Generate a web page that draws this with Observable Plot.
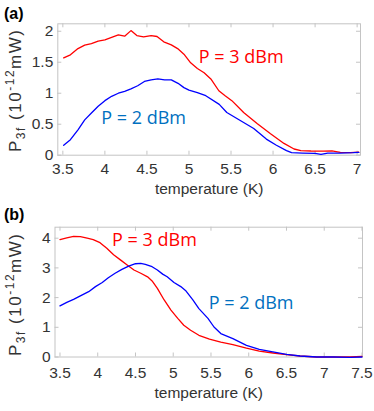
<!DOCTYPE html>
<html><head><meta charset="utf-8">
<script src="https://cdn.jsdelivr.net/npm/d3@7"></script>
<script src="https://cdn.jsdelivr.net/npm/@observablehq/plot@0.6"></script>
<style>
body{margin:0;background:#fff;}
#wrap{position:relative;width:374px;height:411px;overflow:hidden;font-family:"Liberation Sans",Arial,sans-serif;}
.panel{position:absolute;left:0;}
.tag{position:absolute;font:bold 16px "Liberation Sans",Arial,sans-serif;color:#000;z-index:2;}
</style></head><body>
<div id="wrap">
 <div id="pa" class="panel" style="top:0"></div>
 <div id="pb" class="panel" style="top:205px"></div>
 <div class="tag" style="left:4px;top:5px">(a)</div>
 <div class="tag" style="left:4px;top:206px">(b)</div>
</div>
<script>
// ---- Panel (a) data ----
const aT3 = [3.51,3.59,3.68,3.76,3.84,3.92,4.0,4.08,4.16,4.235,4.31,4.38,4.46,4.55,4.62,4.70,4.79,4.865,4.94,5.02,5.10,5.18,5.26,5.355,5.43,5.51,5.65,5.81,5.97,6.13,6.25,6.33,6.45,6.6,6.7,6.8,6.92,7.02];
const aP3 = [1.57,1.62,1.72,1.775,1.80,1.84,1.86,1.90,1.94,1.92,2.01,1.93,1.91,1.93,1.915,1.83,1.78,1.72,1.63,1.49,1.40,1.33,1.23,1.04,0.96,0.88,0.69,0.51,0.345,0.19,0.10,0.075,0.068,0.065,0.07,0.045,0.04,0.05];
const aT2 = [3.51,3.59,3.68,3.76,3.84,3.92,4.0,4.08,4.16,4.235,4.31,4.39,4.47,4.55,4.63,4.71,4.79,4.87,4.94,5.0,5.10,5.20,5.36,5.45,5.61,5.77,5.92,6.04,6.16,6.22,6.35,6.5,6.57,6.65,6.8,6.95,7.02];
const aP2 = [0.16,0.25,0.41,0.57,0.68,0.79,0.88,0.95,1.0,1.03,1.07,1.12,1.19,1.215,1.23,1.215,1.215,1.16,1.09,1.05,1.01,0.96,0.82,0.69,0.56,0.43,0.26,0.16,0.075,0.04,0.035,0.03,0.015,0.035,0.035,0.04,0.045];
const aXTicks = [3.5,4,4.5,5,5.5,6,6.5,7];
const aYTicks = [0,0.5,1,1.5,2];
const aLabels = ["P = 3 dBm","P = 2 dBm"];
const aLabelT = [5.117,3.957];
const aLabelP = [1.58,0.603];

// ---- Panel (b) data ----
const bT3 = [3.5,3.59,3.68,3.77,3.86,3.94,4.03,4.12,4.21,4.30,4.39,4.48,4.57,4.66,4.72,4.79,4.88,4.97,5.06,5.14,5.23,5.34,5.48,5.63,5.79,5.97,6.14,6.32,6.50,6.68,6.90,7.12,7.34,7.5];
const bP3 = [3.95,4.01,4.06,4.05,4.0,3.95,3.85,3.66,3.44,3.27,3.10,2.93,2.82,2.70,2.56,2.31,1.92,1.58,1.30,1.07,0.90,0.73,0.60,0.50,0.42,0.30,0.20,0.135,0.08,0.034,0.0,0.0,0.0,0.02];
const bT2 = [3.5,3.59,3.68,3.77,3.88,3.97,4.06,4.14,4.23,4.32,4.41,4.50,4.57,4.63,4.72,4.79,4.86,4.92,5.01,5.10,5.17,5.26,5.34,5.46,5.54,5.63,5.79,5.97,6.14,6.32,6.50,6.68,6.90,7.12,7.34,7.5];
const bP2 = [1.72,1.84,1.94,2.06,2.20,2.37,2.51,2.67,2.82,2.95,3.06,3.14,3.15,3.12,3.04,2.93,2.79,2.70,2.51,2.37,2.22,1.92,1.63,1.30,1.01,0.79,0.62,0.39,0.26,0.17,0.09,0.034,0.0,0.0,-0.01,0.0];
const bXTicks = [3.5,4,4.5,5,5.5,6,6.5,7,7.5];
const bYTicks = [0,1,2,3,4];
const bLabels = ["P = 3 dBm","P = 2 dBm"];
const bLabelT = [4.19,5.47];
const bLabelP = [3.93,1.80];

const labelColors = ["#ff0000","#0070c0"];
const lineColors = {"3":"#ff0000","2":"#0000ff"};

function toRows(T, P, s){ return T.map((t,i)=>({t, p:P[i], s})); }

function panel(el, o){
  const W = 374 - o.ml - o.mr, H = o.height - o.mt - o.mb, tk = 4, fc = "#c4c4c4";
  const rows = [...toRows(o.T3,o.P3,"3"), ...toRows(o.T2,o.P2,"2")];
  const lab = o.labels.map((s,i)=>({s, t:o.labelT[i], p:o.labelP[i], c:labelColors[i]}));
  const svg = Plot.plot({
    width: 374, height: o.height,
    marginTop: o.mt, marginBottom: o.mb, marginLeft: o.ml, marginRight: o.mr,
    style: {fontFamily: '"Liberation Sans", Arial, sans-serif', background: "transparent"},
    x: {domain: o.xDomain},
    y: {domain: o.yDomain},
    marks: [
      Plot.frame({stroke: fc}),
      Plot.ruleX(o.xTicks, {x: d=>d, stroke: fc, insetTop: H - tk}),
      Plot.ruleX(o.xTicks, {x: d=>d, stroke: fc, insetBottom: H - tk}),
      Plot.ruleY(o.yTicks, {y: d=>d, stroke: fc, insetRight: W - tk}),
      Plot.ruleY(o.yTicks, {y: d=>d, stroke: fc, insetLeft: W - tk}),
      Plot.axisX({ticks: o.xTicks, tickSize: 0, tickPadding: o.xpad, tickFormat: d=>String(d), fontSize: 15.5, color: "#333", label: null}),
      Plot.axisY({ticks: o.yTicks, tickSize: 0, tickPadding: 4.5, tickFormat: d=>String(d), fontSize: 15.5, color: "#333", label: null}),
      Plot.line(rows, {x: "t", y: "p", z: "s", stroke: d=>lineColors[d.s], strokeWidth: 1.3}),
      Plot.text(lab, {x: "t", y: "p", text: "s", fill: "c", textAnchor: "start", fontSize: 18, fontFamily: '"Open Sans", sans-serif'}),
      Plot.text(["temperature (K)"], {frameAnchor: "bottom", lineAnchor: "middle", dy: o.xlabDy, fontSize: 15.5, fill: "#333"})
    ]
  });
  const t = d3.select(svg).append("text")
    .attr("transform", `translate(${o.ytx},${o.yty}) rotate(-90)`)
    .attr("text-anchor","middle").attr("font-size",17).attr("fill","#333")
    .attr("font-family",'"Liberation Sans", Arial, sans-serif')
    .attr("textLength", 122).attr("lengthAdjust","spacing");
  t.append("tspan").text("P");
  t.append("tspan").attr("font-size",12).attr("dy",4).text("3f");
  t.append("tspan").attr("dy",-4).text(" (10");
  t.append("tspan").attr("font-size",12).attr("dy",-7).text("-12");
  t.append("tspan").attr("dy",7).text("mW)");
  el.appendChild(svg);
}

panel(document.getElementById("pa"), {
  height: 205, mt: 23.3, mb: 50.3, ml: 57.3, mr: 14,
  xDomain: [3.44, 7.04], yDomain: [0, 2.12],
  T3: aT3, P3: aP3, T2: aT2, P2: aP2,
  xTicks: aXTicks, yTicks: aYTicks, xpad: 8, xlabDy: 34,
  labels: aLabels, labelT: aLabelT, labelP: aLabelP,
  ytx: 21, yty: 91
});
panel(document.getElementById("pb"), {
  height: 206, mt: 21.7, mb: 54.5, ml: 54.5, mr: 12,
  xDomain: [3.434, 7.507], yDomain: [0, 4.37],
  T3: bT3, P3: bP3, T2: bT2, P2: bP2,
  xTicks: bXTicks, yTicks: bYTicks, xpad: 10, xlabDy: 36.5,
  labels: bLabels, labelT: bLabelT, labelP: bLabelP,
  ytx: 21, yty: 90
});
</script>
</body></html>
